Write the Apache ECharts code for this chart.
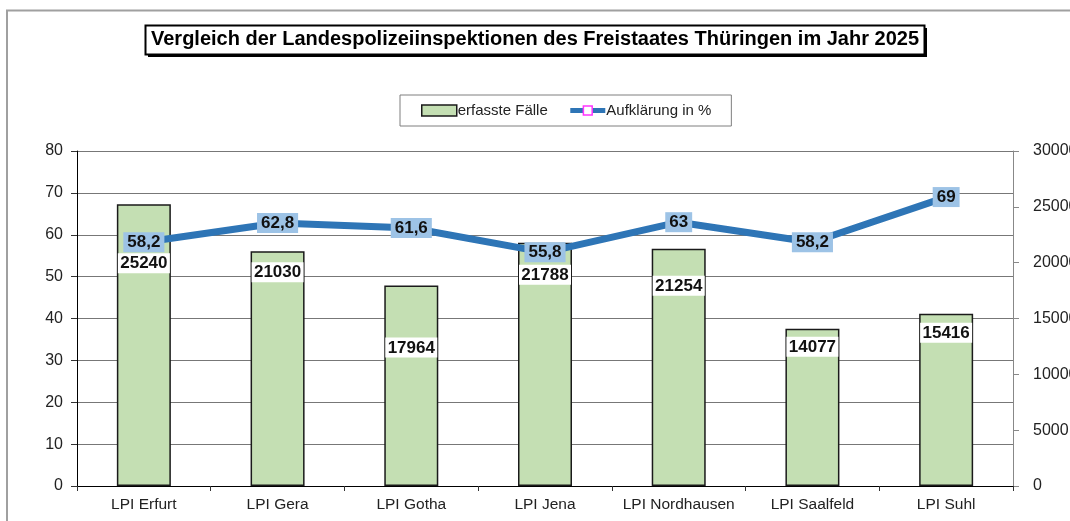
<!DOCTYPE html>
<html>
<head>
<meta charset="utf-8">
<script src="https://cdn.jsdelivr.net/npm/echarts@6/dist/echarts.min.js"></script>
<style>
html,body{margin:0;padding:0;background:#fff;}
#chart{width:1070px;height:521px;}
</style>
</head>
<body>
<div id="chart"></div>
<script>
const categories = ['LPI Erfurt','LPI Gera','LPI Gotha','LPI Jena','LPI Nordhausen','LPI Saalfeld','LPI Suhl'];
const faelle = [25240, 21030, 17964, 21788, 21254, 14077, 15416];
const aufklaerung = [58.2, 62.8, 61.6, 55.8, 63, 58.2, 69];
const leftTicks = {min: 0, max: 80, interval: 10};
const rightTicks = {min: 0, max: 30000, interval: 5000};
// label vertical offsets inside bars (style only)
const barLabelOffsets = [49, 11, 52, 22, 27, 8, 9];

const chart = echarts.init(document.getElementById('chart'), null, {renderer: 'canvas'});
const fontFam = 'Arial, "Liberation Sans", sans-serif';

chart.setOption({
  animation: false,
  backgroundColor: '#fff',
  graphic: [
    {type: 'polyline', shape: {points: [[7, 530], [7, 10.5], [1080, 10.5]]}, style: {stroke: '#a0a0a0', lineWidth: 2, fill: null}, silent: true},
    {type: 'rect', shape: {x: 148, y: 28, width: 779, height: 29}, style: {fill: '#000'}, silent: true},
    {type: 'rect', shape: {x: 145.5, y: 25.5, width: 779, height: 29}, style: {fill: '#fff', stroke: '#000', lineWidth: 2}, silent: true},
    {type: 'text', left: 'center', top: 29, style: {text: 'Vergleich der Landespolizeiinspektionen des Freistaates Thüringen im Jahr 2025', font: 'bold 20px Arial, "Liberation Sans", sans-serif', fill: '#000'}, silent: true}
  ],
  legend: {
    top: 95,
    left: 400,
    data: [
      {name: 'erfasste Fälle', icon: 'rect', itemStyle: {color: '#c4dfb3', borderColor: '#1a1a1a', borderWidth: 1.5}},
      {name: 'Aufklärung in %', lineStyle: {width: 5, color: '#2e75b6'}, itemStyle: {color: '#fff', borderColor: '#ff33ff', borderWidth: 1.5}}
    ],
    backgroundColor: '#fff',
    borderColor: '#7f7f7f',
    borderWidth: 1,
    borderRadius: 0,
    padding: [8, 20, 8, 21],
    itemGap: 20,
    itemWidth: 35,
    itemHeight: 11,
    textStyle: {fontFamily: fontFam, fontSize: 15, color: '#222', padding: [0, 0, 0, -4]}
  },
  grid: {left: 77, right: 57, top: 151, bottom: 35, containLabel: false, outerBoundsMode: 'none'},
  xAxis: {
    type: 'category',
    data: categories,
    axisLine: {lineStyle: {color: '#000', width: 1}},
    axisTick: {show: true, length: 5, lineStyle: {color: '#333'}},
    axisLabel: {interval: 0, fontFamily: fontFam, fontSize: 15.5, color: '#222', margin: 11}
  },
  yAxis: [
    {
      type: 'value', min: leftTicks.min, max: leftTicks.max, interval: leftTicks.interval,
      axisLine: {show: true, lineStyle: {color: '#000', width: 1}},
      axisTick: {show: true, length: 6, lineStyle: {color: '#333'}},
      splitLine: {show: true, lineStyle: {color: '#777', width: 1}},
      axisLabel: {fontFamily: fontFam, fontSize: 16, color: '#222', margin: 14}
    },
    {
      type: 'value', min: rightTicks.min, max: rightTicks.max, interval: rightTicks.interval, position: 'right',
      axisLine: {show: true, lineStyle: {color: '#888', width: 1}},
      axisTick: {show: true, length: 6, lineStyle: {color: '#888'}},
      splitLine: {show: false},
      axisLabel: {fontFamily: fontFam, fontSize: 16, color: '#222', margin: 20, formatter: v => String(v)}
    }
  ],
  series: [
    {
      name: 'erfasste Fälle',
      type: 'bar',
      yAxisIndex: 1,
      barWidth: 54,
      itemStyle: {color: '#c4dfb3', borderColor: '#1a1a1a', borderWidth: 1.5},
      data: faelle.map((v, i) => ({
        value: v,
        label: {offset: [0, barLabelOffsets[i]]}
      })),
      label: {
        show: true,
        position: 'insideTop',
        distance: 0,
        color: '#111',
        fontFamily: fontFam,
        fontWeight: 'bold',
        fontSize: 17,
        backgroundColor: '#fff',
        width: 48,
        align: 'center',
        padding: [2, 2, 1, 2]
      },
      z: 2
    },
    {
      name: 'Aufklärung in %',
      type: 'line',
      yAxisIndex: 0,
      data: aufklaerung,
      symbol: 'rect',
      symbolSize: 8,
      showAllSymbol: true,
      lineStyle: {color: '#2e75b6', width: 7},
      itemStyle: {color: '#fff', borderColor: '#ff33ff', borderWidth: 1.5},
      label: {
        show: true,
        position: 'inside',
        color: '#111',
        fontFamily: fontFam,
        fontWeight: 'bold',
        fontSize: 17,
        backgroundColor: '#9dc3e6',
        padding: [2, 4, 1, 4],
        formatter: p => String(p.value).replace('.', ',')
      },
      z: 5
    }
  ]
});
</script>
</body>
</html>
